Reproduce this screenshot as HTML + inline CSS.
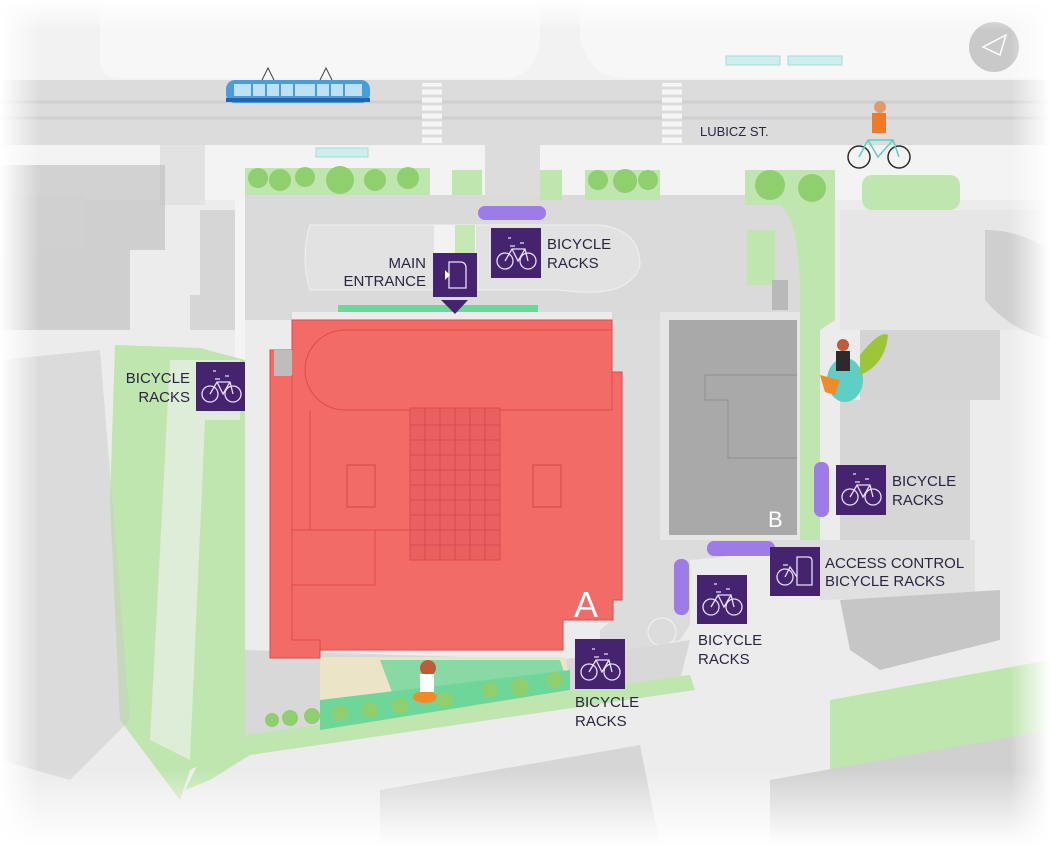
<!DOCTYPE html>
<html><head><meta charset="utf-8"><style>
html,body{margin:0;padding:0;background:#fff}
svg{display:block}
text{font-family:"Liberation Sans",sans-serif;fill:#2c2442;font-size:15px}
</style></head><body>
<svg width="1050" height="845" viewBox="0 0 1050 845" xmlns="http://www.w3.org/2000/svg">
<defs>
<linearGradient id="fl" x1="0" x2="1"><stop offset="0" stop-color="#fff" stop-opacity="1"/><stop offset="1" stop-color="#fff" stop-opacity="0"/></linearGradient>
<linearGradient id="fr" x1="1" x2="0"><stop offset="0" stop-color="#fff" stop-opacity="1"/><stop offset="1" stop-color="#fff" stop-opacity="0"/></linearGradient>
<linearGradient id="fb" y1="1" y2="0" x1="0" x2="0"><stop offset="0" stop-color="#fff" stop-opacity="1"/><stop offset="1" stop-color="#fff" stop-opacity="0"/></linearGradient>
<linearGradient id="ft" y1="0" y2="1" x1="0" x2="0"><stop offset="0" stop-color="#fff" stop-opacity="1"/><stop offset="1" stop-color="#fff" stop-opacity="0"/></linearGradient>
<g id="bike" fill="none" stroke="#e8defa" stroke-width="1.3"><circle cx="-11" cy="6" r="8"/><circle cx="12" cy="6" r="8"/><path d="M-11 6 L-4 -6 L9 -6 L12 6 M-4 -6 L2 6 L9 -6 M-6 -9 L-1 -9 M4 -12 L8 -12 M-8 -17 L-5 -17"/></g>
</defs>
<rect width="1050" height="845" fill="#ececec"/>
<rect x="0" y="0" width="1050" height="80" fill="#f2f2f2"/>
<path d="M100 0 V60 Q100 78 120 78 H505 Q535 78 540 40 V0Z" fill="#f7f7f7"/>
<path d="M580 0 V40 Q590 78 625 78 H1050 V0Z" fill="#f7f7f7"/>
<rect x="726" y="56" width="54" height="9" fill="#cdeeed" stroke="#a9d9d8"/>
<rect x="788" y="56" width="54" height="9" fill="#cdeeed" stroke="#a9d9d8"/>
<rect x="0" y="80" width="1050" height="65" fill="#dcdcdc"/>
<line x1="0" y1="102" x2="1050" y2="102" stroke="#cfcfcf" stroke-width="3"/>
<line x1="0" y1="118" x2="1050" y2="118" stroke="#cfcfcf" stroke-width="3"/>
<g fill="#f6f6f6"><rect x="422" y="83" width="20" height="60"/><rect x="662" y="83" width="20" height="60"/></g>
<g stroke="#dcdcdc" stroke-width="3"><path d="M422 88 H442 M422 96 H442 M422 104 H442 M422 112 H442 M422 120 H442 M422 128 H442 M422 136 H442 M662 88 H682 M662 96 H682 M662 104 H682 M662 112 H682 M662 120 H682 M662 128 H682 M662 136 H682"/></g>
<text x="700" y="136" style="font-size:13px">LUBICZ ST.</text>
<g><rect x="226" y="80" width="144" height="23" rx="9" fill="#4a9ddd"/><rect x="234" y="84" width="128" height="12" fill="#bde1f5"/><g stroke="#4a9ddd" stroke-width="2"><path d="M252 84 V96 M266 84 V96 M280 84 V96 M294 84 V96 M316 84 V96 M330 84 V96 M344 84 V96"/></g><rect x="226" y="98" width="144" height="4" fill="#2166b0"/><path d="M262 80 L268 68 L274 80 M320 80 L326 68 L332 80" fill="none" stroke="#444"/></g>
<path d="M0 145 H1050 V200 H0Z" fill="#f3f3f3"/>
<rect x="160" y="145" width="45" height="60" fill="#e2e2e2"/>
<rect x="485" y="140" width="55" height="60" fill="#dcdcdc"/>
<rect x="316" y="148" width="52" height="9" fill="#cdeeed" stroke="#a9d9d8"/>
<path d="M0 165 H165 V250 H130 V330 H0Z" fill="#bcbcbc" opacity=".6"/>
<path d="M0 195 H85 V250 H0Z" fill="#d0d0d0"/>
<path d="M200 210 H235 V330 H190 V295 H200Z" fill="#d6d6d6"/>
<path d="M245 195 H800 L800 320 H245Z" fill="#dadada"/>
<path d="M235 200 H245 V740 H235Z" fill="#f4f4f4"/>
<rect x="245" y="168" width="185" height="27" fill="#bfe6ae"/>
<rect x="452" y="170" width="30" height="25" fill="#bfe6ae"/>
<rect x="540" y="170" width="22" height="30" fill="#bfe6ae"/>
<rect x="585" y="170" width="75" height="30" fill="#bfe6ae"/>
<rect x="745" y="170" width="90" height="35" fill="#bfe6ae"/>
<rect x="862" y="175" width="98" height="35" rx="10" fill="#bfe6ae"/>
<g fill="#8fcf6e"><circle cx="258" cy="178" r="10"/><circle cx="280" cy="180" r="11"/><circle cx="305" cy="177" r="10"/><circle cx="340" cy="180" r="14"/><circle cx="375" cy="180" r="11"/><circle cx="408" cy="178" r="11"/><circle cx="598" cy="180" r="10"/><circle cx="625" cy="181" r="12"/><circle cx="648" cy="180" r="10"/><circle cx="770" cy="185" r="15"/><circle cx="812" cy="188" r="14"/></g>
<rect x="747" y="230" width="28" height="55" fill="#bfe6ae"/>
<rect x="772" y="280" width="16" height="30" fill="#b9b9b9"/>
<path d="M835 200 V320 L820 330 V540 H800 L800 300 Q800 220 780 205Z" fill="#bfe6ae"/>
<path d="M310 225 H600 Q640 230 640 265 Q630 300 560 290 H310 Q300 258 310 225Z" fill="#e2e2e2" stroke="#f0f0f0"/>
<rect x="434" y="225" width="42" height="30" fill="#f2f2f2"/>
<rect x="455" y="225" width="20" height="30" fill="#c6e8b5"/>
<rect x="338" y="305" width="200" height="8" fill="#6fd69a"/>
<rect x="292" y="312" width="320" height="8" fill="#ececec"/>
<path d="M840 210 H1050 V330 H840Z" fill="#e6e6e6"/>
<path d="M860 330 H1000 V400 H860Z" fill="#d4d4d4"/>
<path d="M840 400 H970 V580 H840Z" fill="#d6d6d6"/>
<path d="M985 230 Q1020 230 1050 250 V340 Q1010 330 985 300Z" fill="#cfcfcf"/>
<path d="M820 540 V600 L975 595 V540Z" fill="#e0e0e0"/>
<path d="M840 600 L1000 590 V640 L880 670 L850 650Z" fill="#c6c6c6"/>
<path d="M612 320 H660 V540 H800 L820 540 V548 L690 560 L690 625 L680 640 L600 660 L600 630 L612 620Z" fill="#dcdcdc"/>
<circle cx="662" cy="632" r="14" fill="none" stroke="#f3f3f3"/>
<path d="M245 650 V740 L680 680 L690 640 L560 660Z" fill="#d8d8d8"/>
<path d="M115 345 L200 348 L245 360 V740 L190 770 L180 800 L120 720 L110 500Z" fill="#bfe6ae"/>
<path d="M170 360 L240 360 V420 L205 420 L190 760 L150 740Z" fill="#f2f2f2" opacity=".6"/>
<path d="M0 360 L100 350 L130 720 L70 780 L0 760Z" fill="#c9c9c9" opacity=".5"/>
<path d="M245 735 L690 675 L695 690 L250 755 L210 780 L185 790 L200 760Z" fill="#bfe6ae"/>
<path d="M830 700 L1050 660 V760 L870 800 L830 780Z" fill="#bfe6ae"/>
<path d="M380 790 L640 745 L660 845 L380 845Z" fill="#d6d6d6"/>
<path d="M770 780 L1050 730 V845 L770 845Z" fill="#d0d0d0"/>
<path d="M320 657 H565 L570 680 L320 718Z" fill="#ece4c6"/>
<path d="M380 660 H560 L565 675 L450 690 L395 700Z" fill="#6fd69a" opacity=".8"/>
<path d="M320 700 L570 670 V690 L320 730Z" fill="#6fd69a"/>
<g fill="#8fcf6e"><circle cx="272" cy="720" r="7"/><circle cx="290" cy="718" r="8"/><circle cx="312" cy="716" r="8"/><circle cx="340" cy="713" r="8"/><circle cx="370" cy="710" r="8"/><circle cx="400" cy="706" r="8"/><circle cx="445" cy="700" r="8"/><circle cx="490" cy="690" r="8"/><circle cx="520" cy="687" r="9"/><circle cx="555" cy="680" r="8"/></g>
<ellipse cx="425" cy="697" rx="12" ry="6" fill="#f28a2a"/>
<circle cx="428" cy="668" r="8" fill="#c05a3a"/>
<rect x="420" y="674" width="14" height="18" fill="#fff"/>
<path d="M292 320 H612 V372 H622 V600 H613 V620 H563 V650 H320 V658 H270 V350 H292Z" fill="#f26b66" stroke="#e04a4a"/>
<rect x="274" y="350" width="18" height="26" fill="#bdbdbd"/>
<path d="M345 330 H612 V410 H345 A40 40 0 0 1 345 330Z" fill="none" stroke="#e04a4a"/>
<path d="M310 410 V530 H410 M292 375 V640 H320 V650 M292 530 H375 V585 H292" fill="none" stroke="#e04a4a"/>
<rect x="410" y="408" width="90" height="152" fill="#e96060" stroke="#e04a4a"/>
<g stroke="#d24848" stroke-width=".8"><path d="M425 408 V560 M440 408 V560 M455 408 V560 M470 408 V560 M485 408 V560 M410 425 H500 M410 440 H500 M410 455 H500 M410 470 H500 M410 485 H500 M410 500 H500 M410 515 H500 M410 530 H500 M410 545 H500"/></g>
<rect x="347" y="465" width="28" height="42" fill="none" stroke="#d24848"/>
<rect x="533" y="465" width="28" height="42" fill="none" stroke="#d24848"/>
<text x="574" y="617" style="font-size:36px;fill:#fff">A</text>
<rect x="660" y="312" width="140" height="228" fill="#e6e6e6"/>
<rect x="669" y="320" width="128" height="215" fill="#a9a9a9"/>
<path d="M797 375 H705 V400 H728 V458 H797" fill="none" stroke="#8f8f8f"/>
<text x="768" y="527" style="font-size:22px;fill:#fff">B</text>
<ellipse cx="845" cy="380" rx="18" ry="22" fill="#5ecfc4"/>
<path d="M860 355 Q880 330 888 335 Q885 365 860 375Z" fill="#9dc53a"/>
<path d="M820 375 L840 380 L835 395 L825 392Z" fill="#f28a2a"/>
<circle cx="843" cy="345" r="6" fill="#c05a3a"/>
<rect x="836" y="351" width="14" height="20" fill="#2b2b2b"/>
<g fill="none" stroke="#2b2b2b" stroke-width="1.5"><circle cx="859" cy="157" r="11"/><circle cx="899" cy="157" r="11"/><path d="M859 157 L868 140 H893 L899 157 M868 140 L878 157 L893 140" stroke="#5ecfc4"/></g>
<rect x="872" y="113" width="14" height="20" fill="#f07a2a"/><circle cx="880" cy="107" r="6" fill="#e39a6a"/>
<circle cx="994" cy="47" r="25" fill="#c9c9c9"/>
<path d="M1006 35 L983 47 L1000 55Z" fill="none" stroke="#fff" stroke-width="1.5"/>
<g fill="#9d7ce8"><rect x="478" y="206" width="68" height="14" rx="7"/><rect x="814" y="462" width="15" height="55" rx="7"/><rect x="707" y="541" width="68" height="15" rx="7"/><rect x="674" y="559" width="15" height="56" rx="7"/></g>
<g fill="#46236f">
<rect x="433" y="253" width="44" height="44"/><path d="M441 300 H468 L455 314Z"/>
<rect x="491" y="228" width="50" height="50"/>
<rect x="196" y="362" width="49" height="49"/>
<rect x="836" y="465" width="50" height="50"/>
<rect x="770" y="547" width="50" height="49"/>
<rect x="697" y="575" width="50" height="49"/>
<rect x="575" y="639" width="50" height="50"/>
</g>
<path d="M449 262 H460 Q466 262 466 268 V288 H449Z" fill="none" stroke="#e8defa" stroke-width="1.3"/><path d="M445 270 L450 275 L445 280Z" fill="#fff"/>
<use href="#bike" x="516" y="255"/>
<use href="#bike" x="221" y="388"/>
<use href="#bike" x="861" y="491"/>
<use href="#bike" x="722" y="601"/>
<use href="#bike" x="600" y="666"/>
<g fill="none" stroke="#e8defa" stroke-width="1.3"><circle cx="785" cy="577" r="8"/><path d="M785 577 L790 567 L797 577 M783 565 H788 M797 557 H808 Q812 557 812 561 V585 H797Z"/></g>
<text x="426" y="268" text-anchor="end">MAIN</text>
<text x="426" y="286" text-anchor="end">ENTRANCE</text>
<text x="547" y="249">BICYCLE</text><text x="547" y="268">RACKS</text>
<text x="190" y="383" text-anchor="end">BICYCLE</text><text x="190" y="402" text-anchor="end">RACKS</text>
<text x="892" y="486">BICYCLE</text><text x="892" y="505">RACKS</text>
<text x="825" y="568">ACCESS CONTROL</text><text x="825" y="586">BICYCLE RACKS</text>
<text x="698" y="645">BICYCLE</text><text x="698" y="664">RACKS</text>
<text x="575" y="707">BICYCLE</text><text x="575" y="726">RACKS</text>
<rect x="0" y="0" width="40" height="845" fill="url(#fl)"/>
<rect x="1010" y="0" width="40" height="845" fill="url(#fr)"/>
<rect x="0" y="770" width="1050" height="75" fill="url(#fb)"/>
<rect x="0" y="0" width="1050" height="30" fill="url(#ft)"/>
</svg>
</body></html>
